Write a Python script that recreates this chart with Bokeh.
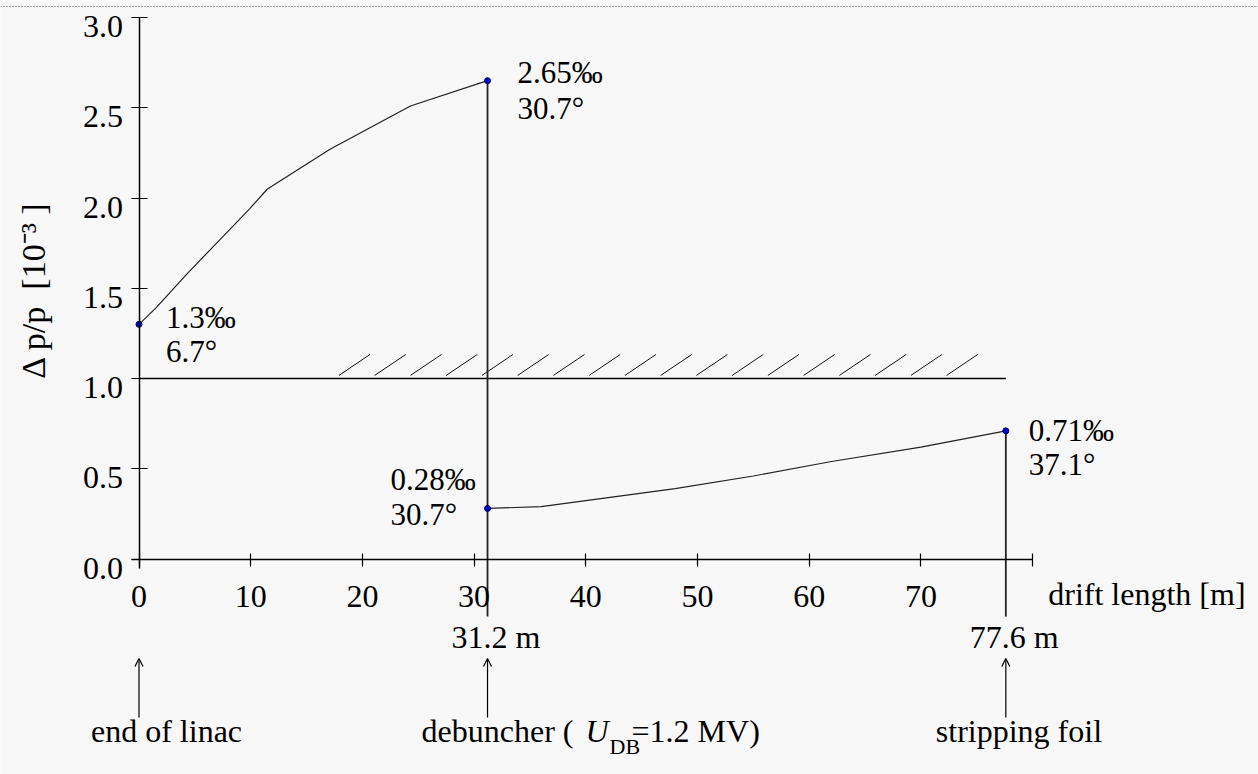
import numpy as np
from bokeh.plotting import figure
from bokeh.models import Range1d, FixedTicker, Arrow, OpenHead, ColumnDataSource, Span
from bokeh.core.properties import value
from bokeh.embed import file_html
from bokeh.resources import INLINE

# ---------------- data ----------------
upper_x = [0.0, 1.5, 4.3, 7.1, 9.9, 11.5, 17.1, 24.3, 31.2]
upper_y = [1.30, 1.39, 1.58, 1.76, 1.94, 2.05, 2.27, 2.51, 2.65]
lower_x = [31.2, 36.0, 42.0, 48.0, 55.0, 62.0, 70.0, 77.6]
lower_y = [0.28, 0.29, 0.34, 0.39, 0.46, 0.54, 0.62, 0.71]

point_x = [0.0, 31.2, 31.2, 77.6]
point_y = [1.30, 2.65, 0.28, 0.71]
pct_labels = ["1.3‰", "2.65‰", "0.28‰", "0.71‰"]
deg_labels = ["6.7°", "30.7°", "30.7°", "37.1°"]

limit_value = 1.0
station_x = [0.0, 31.2, 77.6]
station_names = ["end of linac", "debuncher (", "stripping foil"]
distance_labels = ["31.2 m", "77.6 m"]

x_ticks = [0, 10, 20, 30, 40, 50, 60, 70, 80]
y_ticks = [0.0, 0.5, 1.0, 1.5, 2.0, 2.5, 3.0]
y_tick_labels = ["0.0", "0.5", "1.0", "1.5", "2.0", "2.5", "3.0"]

# ---------------- figure ----------------
W, H = 1258, 774
FONT = "Liberation Serif"
FIX = -11  # baseline correction of the svg text renderer
p = figure(width=W, height=H, output_backend="svg", toolbar_location=None,
           x_range=Range1d(-12.399, 100.22), y_range=Range1d(-1.1939, 3.0942),
           min_border=0, min_border_left=0, min_border_right=0,
           min_border_top=0, min_border_bottom=0)
p.background_fill_color = "#f8f8f8"
p.border_fill_color = "#f8f8f8"
p.outline_line_color = None
p.grid.visible = False

# dotted top border of the original scan
p.add_layout(Span(location=3.061, dimension="width", line_color="#555555",
                  line_width=1, line_dash="1 2"))

xa = p.xaxis[0]
xa.fixed_location = 0
xa.bounds = (-0.7, 80)
xa.ticker = FixedTicker(ticks=x_ticks)
xa.major_label_overrides = {80: ""}
xa.minor_tick_line_color = None
xa.major_tick_in = 6
xa.major_tick_out = 7
xa.major_label_standoff = 20
xa.axis_line_width = 1.5
xa.major_tick_line_width = 1.2
xa.major_label_text_font = FONT
xa.major_label_text_font_size = "32px"
xa.major_label_text_color = "black"

ya = p.yaxis[0]
ya.fixed_location = 0
ya.bounds = (-0.055, 3.0)
ya.ticker = FixedTicker(ticks=y_ticks)
ya.minor_tick_line_color = None
ya.major_tick_in = 8
ya.major_tick_out = 8
ya.axis_line_width = 1.5
ya.major_tick_line_width = 1.2
ya.major_label_text_color = None

# y tick labels hang below their ticks, as in the original
p.text(x=[0.0] * len(y_ticks), y=y_ticks, text=y_tick_labels, x_offset=-16, y_offset=20 + FIX,
       text_font=value(FONT), text_font_size="32px", text_align="right",
       text_baseline="alphabetic", text_color="black")

# limit line with hatching
p.line([0.0, station_x[2]], [limit_value, limit_value], line_color="black", line_width=1.5)
hatch_start = 17.9
hatch_step = 3.2
hatch_n = 18
hx0 = [hatch_start + i * hatch_step for i in range(hatch_n)]
hx1 = [v + 2.78 for v in hx0]
p.segment(x0=hx0, y0=[limit_value + 0.017] * hatch_n, x1=hx1, y1=[limit_value + 0.133] * hatch_n,
          line_color="#111111", line_width=1)

# vertical lines at debuncher and foil
p.segment(x0=[station_x[1], station_x[2]], y0=[upper_y[-1], lower_y[-1]],
          x1=[station_x[1], station_x[2]], y1=[-0.319, -0.319],
          line_color="#222222", line_width=1.8)

# curves
p.line(upper_x, upper_y, line_color="#222222", line_width=1.2)
p.line(lower_x, lower_y, line_color="#222222", line_width=1.2)
p.scatter(point_x, point_y, size=6, fill_color="#0000cc", line_color="#000066")

# annotations at points
off1_x = [27, 30, -97, 23]
off1_y = [v + FIX for v in [4, 3, -18, 11]]
off2_y = [v + FIX for v in [38, 39, 17, 45]]
src = ColumnDataSource(dict(x=point_x, y=point_y, t1=pct_labels, t2=deg_labels,
                            xo=off1_x, yo1=off1_y, yo2=off2_y))
p.text(x="x", y="y", text="t1", x_offset="xo", y_offset="yo1", source=src,
       text_font=value(FONT), text_font_size="31px", text_baseline="alphabetic", text_color="black")
p.text(x="x", y="y", text="t2", x_offset="xo", y_offset="yo2", source=src,
       text_font=value(FONT), text_font_size="31px", text_baseline="alphabetic", text_color="black")

# y axis title
p.text(x=[-9.45], y=[1.49], text=["Δ p/p\u00a0 [10⁻³ ]"], angle=np.pi / 2,
       text_font=value(FONT), text_font_size="34px", text_align="center", text_baseline="middle",
       text_color="black")

# x axis title
p.text(x=[81.4], y=[-0.26], text=["drift length [m]"], y_offset=-1 + FIX,
       text_font=value(FONT), text_font_size="32px",
       text_baseline="alphabetic", text_color="black")

# distance labels
p.text(x=station_x[1:], y=[-0.498, -0.498], text=distance_labels, x_offset=[-36, -36],
       y_offset=-1 + FIX,
       text_font=value(FONT), text_font_size="32px", text_baseline="alphabetic", text_color="black")

# arrows
for sx in station_x:
    p.add_layout(Arrow(end=OpenHead(size=8, line_width=1.2, line_color="black"),
                       x_start=sx, y_start=-0.878, x_end=sx, y_end=-0.551,
                       line_color="black", line_width=1.2))

# station names
base_y = -1.011
p.text(x=[station_x[0]], y=[base_y], text=[station_names[0]], x_offset=[-48], y_offset=1 + FIX,
       text_font=value(FONT), text_font_size="32px", text_baseline="alphabetic", text_color="black")
p.text(x=[station_x[2]], y=[base_y], text=[station_names[2]], x_offset=[-70], y_offset=1 + FIX,
       text_font=value(FONT), text_font_size="32px", text_baseline="alphabetic", text_color="black")
p.text(x=[station_x[1]], y=[base_y], text=[station_names[1]], x_offset=[-66], y_offset=1 + FIX,
       text_font=value(FONT), text_font_size="32px", text_baseline="alphabetic", text_color="black")
p.text(x=[station_x[1]], y=[base_y], text=["U"], x_offset=[98], y_offset=1 + FIX,
       text_font=value(FONT), text_font_size="32px", text_font_style="italic",
       text_baseline="alphabetic", text_color="black")
p.text(x=[station_x[1]], y=[base_y], text=["DB"], x_offset=[122], y_offset=[16 + FIX],
       text_font=value(FONT), text_font_size="22px", text_baseline="alphabetic", text_color="black")
p.text(x=[station_x[1]], y=[base_y], text=["=1.2 MV)"], x_offset=[144], y_offset=1 + FIX,
       text_font=value(FONT), text_font_size="32px", text_baseline="alphabetic", text_color="black")

open("out.html", "w").write(file_html(p, INLINE))
